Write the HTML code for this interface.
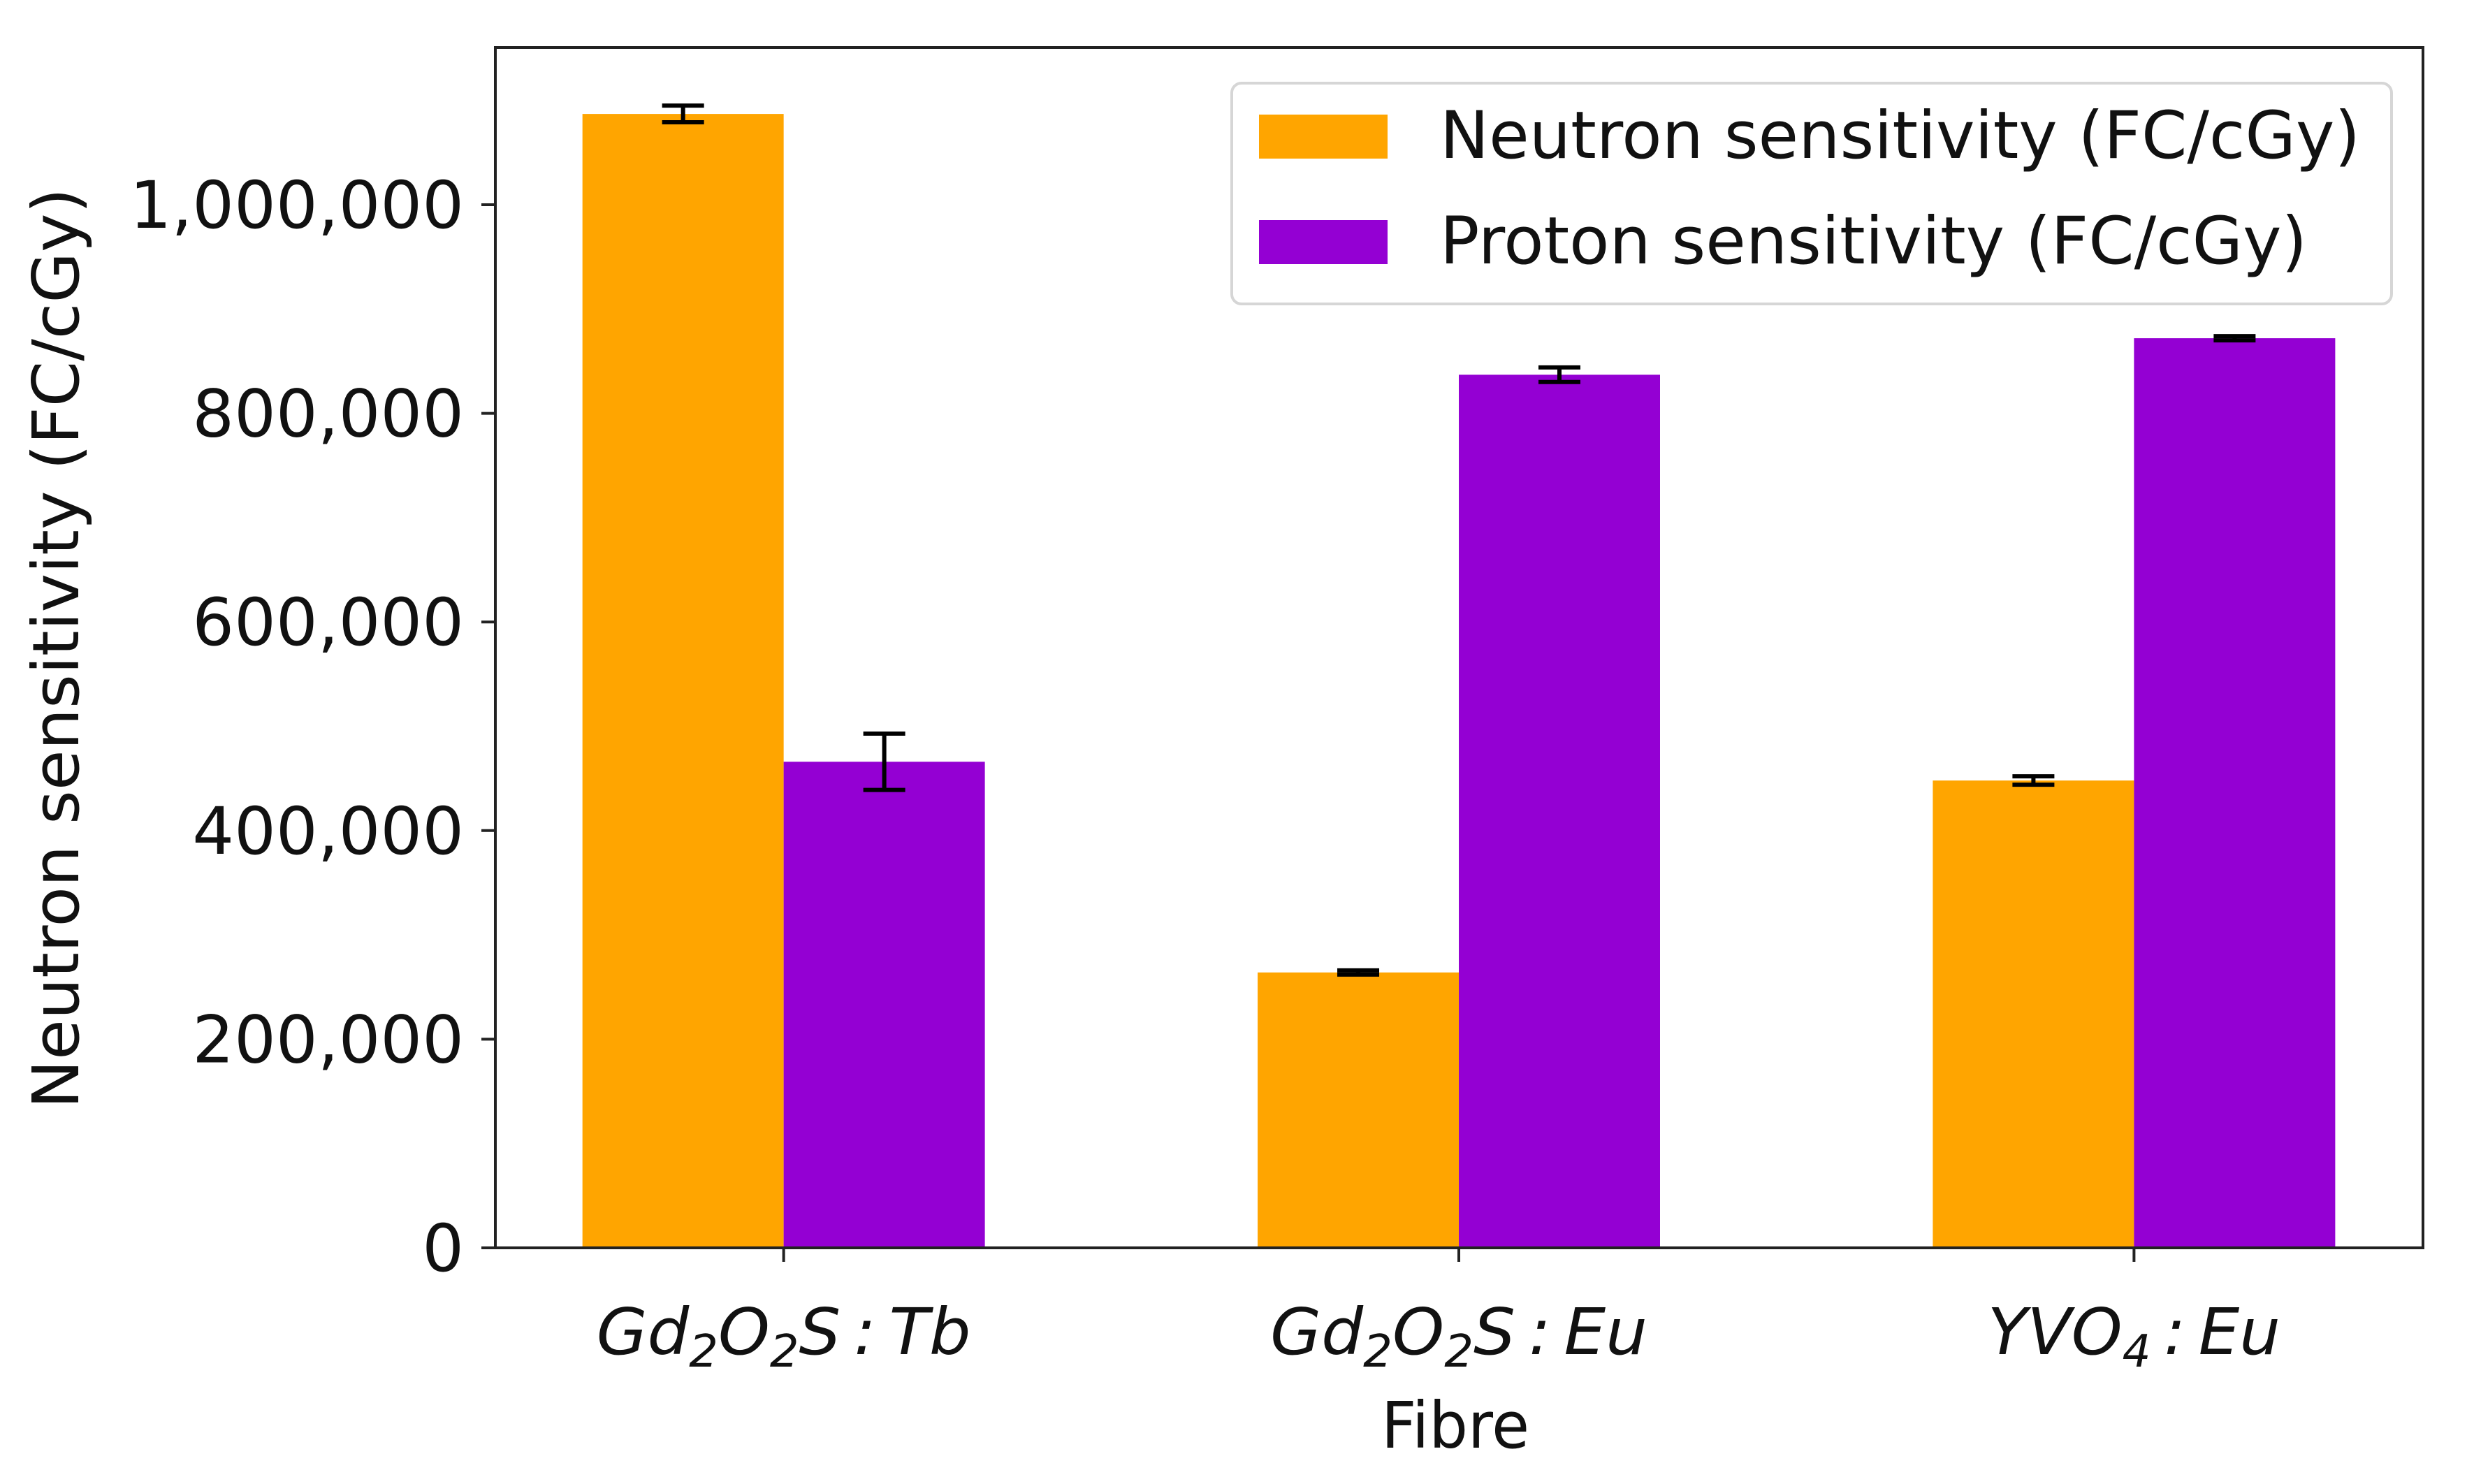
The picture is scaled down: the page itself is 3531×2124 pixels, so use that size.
<!DOCTYPE html>
<html><head><meta charset="utf-8"><style>
html,body{margin:0;padding:0;background:#fff;}
svg{display:block;}
text{font-family:"DejaVu Sans","Liberation Sans",sans-serif;fill:#111;}
</style></head><body>
<svg id="chart" width="3531" height="2124" viewBox="0 0 3531 2124" xmlns="http://www.w3.org/2000/svg">
<g id="bars"></g>
<g id="errs"></g>
<g id="axes"></g>
<g>
<rect x="1763" y="119" width="1660" height="316" rx="14" fill="#fff" stroke="#d6d6d6" stroke-width="4"/>
<rect x="1802" y="164" width="184" height="63" fill="#FFA500"/>
<text x="2061" y="226" font-size="94" textLength="1317" lengthAdjust="spacingAndGlyphs">Neutron sensitivity (FC/cGy)</text>
<rect x="1802" y="315" width="184" height="63" fill="#9400D3"/>
<text x="2061" y="377" font-size="94" textLength="1241" lengthAdjust="spacingAndGlyphs">Proton sensitivity (FC/cGy)</text>
</g>
<text transform="translate(112,928) rotate(-90)" text-anchor="middle" font-size="92" textLength="1318" lengthAdjust="spacingAndGlyphs">Neutron sensitivity (FC/cGy)</text>
<text x="2083" y="2072" text-anchor="middle" font-size="92" textLength="212" lengthAdjust="spacingAndGlyphs">Fibre</text>
</svg>
<script>
const categories = ["Gd2O2S:Tb", "Gd2O2S:Eu", "YVO4:Eu"];
const neutron = [1087000, 264000, 448000];
const neutronErr = [8000, 2000, 4000];
const proton = [466000, 837000, 872000];
const protonErr = [27000, 7000, 2000];
const yTicks = [0, 200000, 400000, 600000, 800000, 1000000];
const yTickLabels = ["0", "200,000", "400,000", "600,000", "800,000", "1,000,000"];

const NS = "http://www.w3.org/2000/svg";
const L = 709, R = 3468, T = 68, B = 1786;
const xmin = -0.427, xmax = 2.428, ymax = 1150700;
const xs = v => L + (v - xmin) / (xmax - xmin) * (R - L);
const ys = v => B - v / ymax * (B - T);
const bw = 0.298;
const labelWidths = [536, 540, 419];
function mk(tag, attrs, parent) {
  const e = document.createElementNS(NS, tag);
  for (const k in attrs) e.setAttribute(k, attrs[k]);
  parent.appendChild(e);
  return e;
}
const bars = document.getElementById('bars');
const errs = document.getElementById('errs');
const axes = document.getElementById('axes');

function drawSeries(vals, errsArr, offset, color, name) {
  vals.forEach((v, i) => {
    const x0 = xs(i + offset - bw / 2), x1 = xs(i + offset + bw / 2);
    const r = mk('rect', {x: x0, y: ys(v), width: x1 - x0, height: B - ys(v), fill: color}, bars);
    
    
    const cx = xs(i + offset);
    const g = mk('g', {stroke: '#000', 'stroke-width': 6}, errs);
    
    
    mk('line', {x1: cx, x2: cx, y1: ys(v - errsArr[i]), y2: ys(v + errsArr[i])}, g);
    mk('line', {x1: cx - 30, x2: cx + 30, y1: ys(v - errsArr[i]), y2: ys(v - errsArr[i])}, g);
    mk('line', {x1: cx - 30, x2: cx + 30, y1: ys(v + errsArr[i]), y2: ys(v + errsArr[i])}, g);
  });
}
drawSeries(neutron, neutronErr, -bw / 2, '#FFA500', 'neutron');
drawSeries(proton, protonErr, bw / 2, '#9400D3', 'proton');

const frame = mk('rect', {x: L, y: T, width: R - L, height: B - T, fill: 'none', stroke: '#222', 'stroke-width': 4}, axes);



yTicks.forEach((t, i) => {
  const y = ys(t);
  mk('line', {x1: L - 20, x2: L, y1: y, y2: y, stroke: '#222', 'stroke-width': 4}, axes);
  const tx = mk('text', {x: L - 45, y: y + 33, 'text-anchor': 'end', 'font-size': 94}, axes);
  tx.textContent = yTickLabels[i];
  
  
});

categories.forEach((c, i) => {
  const x = xs(i);
  mk('line', {x1: x, x2: x, y1: B, y2: B + 20, stroke: '#222', 'stroke-width': 4}, axes);
  const tx = mk('text', {x: x, y: 1938, 'text-anchor': 'middle', 'font-size': 92, 'font-style': 'italic', textLength: labelWidths[i], lengthAdjust: 'spacingAndGlyphs'}, axes);
  
  
  const parts = c.split(':');
  const tokens = parts[0].match(/[A-Za-z]+|\d+/g);
  tokens.forEach(tok => {
    const ts = mk('tspan', {}, tx);
    if (/\d/.test(tok)) { ts.setAttribute('font-size', 64); ts.setAttribute('dy', 18); }
    else if (ts.previousSibling && /\d/.test(ts.previousSibling.textContent)) { ts.setAttribute('dy', -18); }
    ts.textContent = tok;
  });
  const last = tx.lastChild;
  const ts2 = mk('tspan', {}, tx);
  if (/\d/.test(last.textContent)) ts2.setAttribute('dy', -18);
  ts2.textContent = '\u2009:\u2009' + parts[1];
});
</script>
</body></html>
